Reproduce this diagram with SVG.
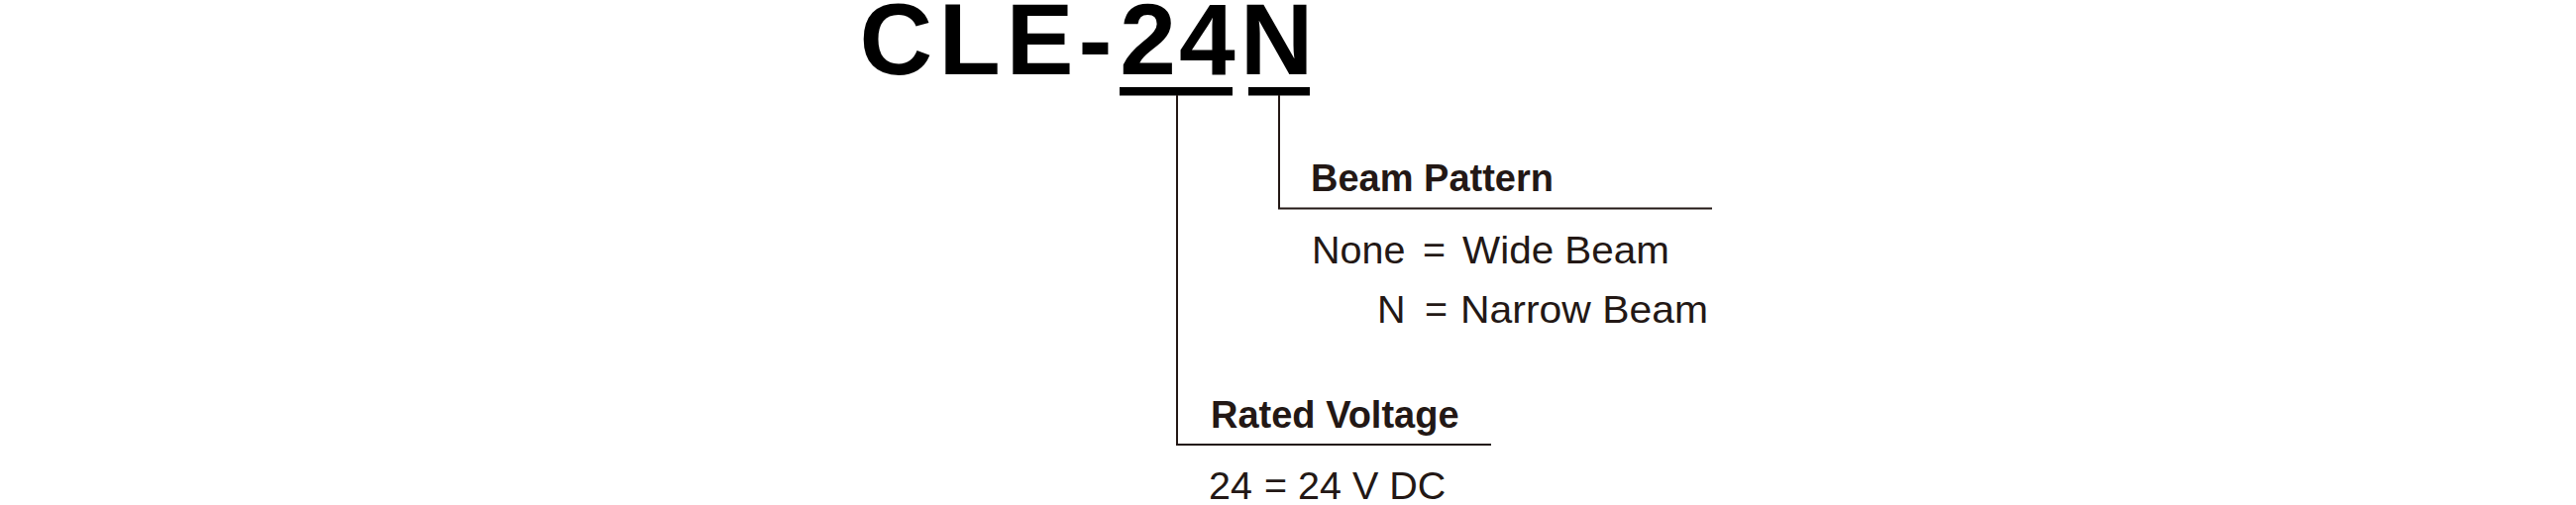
<svg xmlns="http://www.w3.org/2000/svg" width="2600" height="510" viewBox="0 0 2600 510">
  <style>
    .title { font-family: "Liberation Sans", Arial, sans-serif; font-weight: bold; font-size: 102px; fill: #000; }
    .head { font-family: "Liberation Sans", Arial, sans-serif; font-weight: bold; font-size: 38px; fill: #231815; }
    .body { font-family: "Liberation Sans", Arial, sans-serif; font-size: 39.5px; fill: #231815; }
    .bar { fill: #000; }
    .conn { fill: none; stroke: #231815; stroke-width: 2; }
  </style>
  <rect width="2600" height="510" fill="#fff"/>
  <g id="model-code">
    <text class="title" x="867.5 947.6 1015.6 1088.5 1130.3 1190 1251.7" y="75">CLE-24N</text>
    <rect class="bar" x="1130" y="88" width="114" height="8.5"/>
    <rect class="bar" x="1260" y="88" width="62" height="8.5"/>
  </g>
  <g id="connectors">
    <polyline class="conn" points="1188,96 1188,449 1505,449"/>
    <polyline class="conn" points="1291,96 1291,210.5 1728,210.5"/>
  </g>
  <g id="beam-pattern">
    <text class="head" x="1323" y="193">Beam Pattern</text>
    <text class="body" y="266"><tspan x="1324">None</tspan><tspan x="1436">=</tspan><tspan x="1476" textLength="209" lengthAdjust="spacingAndGlyphs">Wide Beam</tspan></text>
    <text class="body" y="326"><tspan x="1390">N</tspan><tspan x="1438">=</tspan><tspan x="1474" textLength="250" lengthAdjust="spacingAndGlyphs">Narrow Beam</tspan></text>
  </g>
  <g id="rated-voltage">
    <text class="head" x="1222" y="432">Rated Voltage</text>
    <text class="body" y="504"><tspan x="1220">24</tspan><tspan x="1276">=</tspan><tspan x="1310">24 V DC</tspan></text>
  </g>
</svg>
